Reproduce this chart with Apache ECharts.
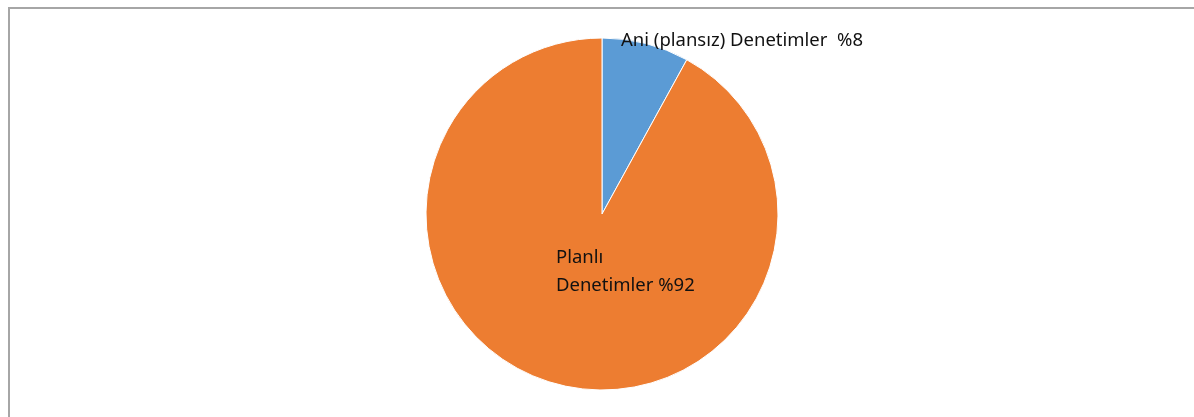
<!DOCTYPE html>
<html>
<head>
<meta charset="utf-8">
<script src="https://cdn.jsdelivr.net/npm/echarts@6/dist/echarts.min.js"></script>
<style>
  html, body { margin: 0; padding: 0; background: #fff; }
  #chart { width: 1194px; height: 417px; }
</style>
</head>
<body>
<div id="chart"></div>
<script>
// Denetim türlerinin dağılımı (yüzde)
const categories = ['Ani (plansız) Denetimler', 'Planlı Denetimler'];
const labelTexts = ['Ani (plansız) Denetimler  %8', 'Planlı\nDenetimler %92'];
const values = [8, 92];
const colors = ['#5B9BD5', '#ED7D31'];

// label anchor points (left/middle of text block)
const labelAnchors = [[621, 41], [556, 272]];

const chart = echarts.init(document.getElementById('chart'), null, { renderer: 'canvas' });

chart.setOption({
  animation: false,
  backgroundColor: '#fff',
  graphic: [
    {
      type: 'polyline',
      shape: { points: [[9, 430], [9, 8], [1200, 8]] },
      style: { stroke: '#a6a6a6', lineWidth: 2, fill: null },
      silent: true
    }
  ],
  series: [
    {
      type: 'pie',
      center: [602, 214],
      radius: 176,
      startAngle: 90,
      clockwise: true,
      itemStyle: { borderColor: '#fff', borderWidth: 1 },
      label: {
        show: true,
        position: 'inside',
        fontFamily: 'Noto Sans',
        fontSize: 18.5,
        lineHeight: 28,
        color: '#111',
        formatter: p => labelTexts[p.dataIndex]
      },
      labelLine: { show: false },
      labelLayout: p => ({
        x: labelAnchors[p.dataIndex][0],
        y: labelAnchors[p.dataIndex][1],
        align: 'left',
        verticalAlign: 'middle'
      }),
      emphasis: { disabled: true },
      data: categories.map((name, i) => ({
        name,
        value: values[i],
        itemStyle: { color: colors[i] }
      }))
    }
  ]
});
</script>
</body>
</html>
